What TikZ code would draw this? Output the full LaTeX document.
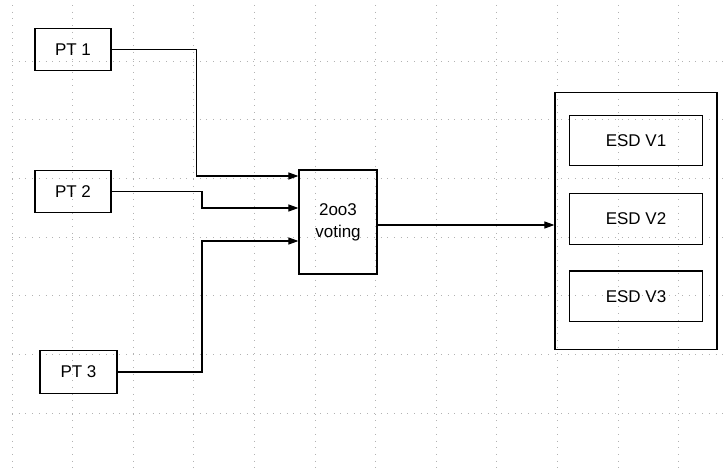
\documentclass[tikz,border=0pt]{standalone}
\usepackage{fontspec}
\setmainfont{Liberation Sans}
\usetikzlibrary{arrows.meta}
\begin{document}
\begin{tikzpicture}[x=1pt,y=-1pt,
  gridline/.style={draw=black!30,line width=0.9pt,dash pattern=on 0.9pt off 5.8pt},
  box/.style={draw=black,line width=1.2pt,rectangle,inner sep=0pt,font=\fontsize{17}{22}\selectfont,align=center},
  link/.style={draw=black,line width=1.1pt,-{Triangle[length=10pt,width=7pt]}}]
  \useasboundingbox (0,0) rectangle (725,470);
  % background grid
  \foreach \gx in {0,...,11} \draw[gridline] (12+60.6*\gx,5) -- (12+60.6*\gx,470);
  \foreach \gy in {1,...,7} \draw[gridline] (12,2.3+58.7*\gy) -- (725,2.3+58.7*\gy);
  % sensors
  \node[box,minimum width=76pt,minimum height=42.5pt] (p1) at (73,49.5) {PT 1};
  \node[box,minimum width=76pt,minimum height=42pt] (p2) at (73,191.7) {PT 2};
  \node[box,minimum width=77pt,minimum height=42.6pt] (p3) at (78.5,372) {PT 3};
  % voting logic
  \node[box,minimum width=78pt,minimum height=104pt] (vote) at (338,222) {2oo3\\voting};
  % shutdown valves
  \node[box,minimum width=162pt,minimum height=257pt] (esd) at (636,220.7) {};
  \node[box,minimum width=132.6pt,minimum height=50pt] (v1) at (636,140.7) {ESD V1};
  \node[box,minimum width=132.6pt,minimum height=51pt] (v2) at (636,218.7) {ESD V2};
  \node[box,minimum width=132.6pt,minimum height=50.7pt] (v3) at (636,296.4) {ESD V3};
  % connectors
  \draw[link] (p1.east) -| (196.7,176) -- (vote.west |- 0,176);
  \draw[link] (p2.east) -| (202,208) -- (vote.west |- 0,208);
  \draw[link] (p3.east) -| (202,241) -- (vote.west |- 0,241);
  \draw[link] (vote.east |- 0,225) -- (esd.west |- 0,225);
\end{tikzpicture}
\end{document}
